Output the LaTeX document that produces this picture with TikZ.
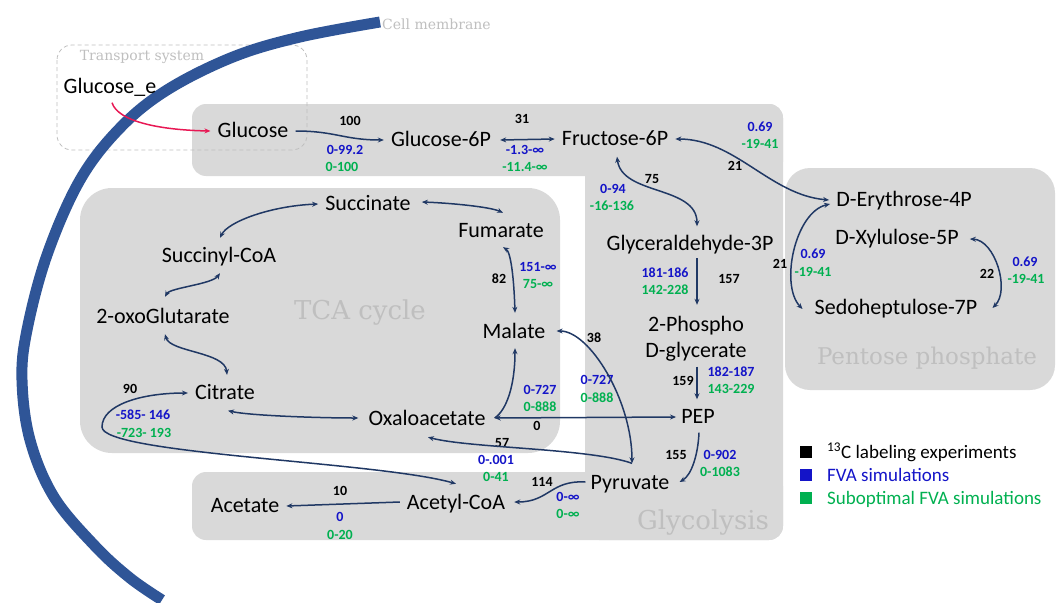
\documentclass[tikz,border=0pt]{standalone}
\usepackage{fontspec}
\setmainfont{Carlito}
\newfontfamily\slabfont{DejaVu Serif}
\usetikzlibrary{arrows.meta,calc}
\definecolor{arrowc}{RGB}{32,56,100}
\definecolor{membc}{RGB}{47,85,151}
\definecolor{boxc}{RGB}{217,217,217}
\definecolor{grouptxt}{RGB}{191,191,191}
\definecolor{fvab}{RGB}{20,20,200}
\definecolor{fvag}{RGB}{0,176,80}
\definecolor{redc}{RGB}{232,24,84}
\begin{document}
\begin{tikzpicture}[x=1pt,y=-1pt,
  met/.style={font=\fontsize{22}{26}\selectfont, text height=13pt, text depth=0pt, inner xsep=7pt, inner ysep=5pt},
  lab/.style={font=\fontsize{14}{16}\selectfont\bfseries, inner sep=0pt},
  expl/.style={lab, text=black},
  fval/.style={lab, text=fvab},
  subl/.style={lab, text=fvag},
  rxn/.style={draw=arrowc, line width=1.5pt, -{Stealth[length=6pt,width=5pt]}},
  rev/.style={draw=arrowc, line width=1.5pt, {Stealth[length=6pt,width=5pt]}-{Stealth[length=6pt,width=5pt]}},
  grp/.style={font=\slabfont\fontsize{26}{30}\selectfont, text=grouptxt, inner sep=0pt},
  legtxt/.style={anchor=west, font=\fontsize{19}{22}\selectfont, text height=12pt, text depth=0pt, inner sep=0pt},
  legsq/.style={minimum size=12pt, inner sep=0pt},
]
\useasboundingbox (0,0) rectangle (1056,602);
% compartments
\fill[boxc, rounded corners=14pt] (192,104) rectangle (783,176);
\fill[boxc, rounded corners=14pt] (585,104) rectangle (783,540);
\fill[boxc, rounded corners=14pt] (192,472) rectangle (783,540);
\fill[boxc, rounded corners=32pt] (80,188) rectangle (560,453);
\fill[boxc, rounded corners=25pt] (785,168) rectangle (1055,390);
\draw[grouptxt, line width=0.8pt, dash pattern=on 4pt off 3pt, rounded corners=15pt] (57,45) rectangle (307,150);
% membrane
\draw[membc, line width=11pt] plot[smooth, tension=0.6] coordinates {(380,22) (300,37) (233,57) (167,90) (120,128) (80,180) (47,255) (27,330) (22,380) (30,440) (54,497) (95,546) (130,578) (162,600)};
% group labels
\node[grp] (tcal) at (360,313) {TCA cycle};
\node[grp, font=\slabfont\fontsize{23}{28}\selectfont] (ppl) at (927,358) {Pentose phosphate};
\node[grp] (glyl) at (703,523) {Glycolysis};
\node[grp, font=\slabfont\fontsize{14}{16}\selectfont] (tsl) at (142,57) {Transport system};
\node[grp, font=\slabfont\fontsize{14}{16}\selectfont, anchor=west] (cml) at (382,24) {Cell membrane};
% metabolites
\node[met] (glce) at (110,87) {Glucose\_e};
\node[met] (glc) at (253,131) {Glucose};
\node[met] (g6p) at (441,140) {Glucose-6P};
\node[met] (f6p) at (615,139) {Fructose-6P};
\node[met] (gap) at (690,244) {Glyceraldehyde-3P};
\node[met, align=center, text height=39pt, text depth=1pt] (pg) at (696,338) {2-Phospho\\D-glycerate};
\node[met] (pep) at (698,417) {PEP};
\node[met] (pyr) at (630,483) {Pyruvate};
\node[met] (acoa) at (456,503) {Acetyl-CoA};
\node[met] (acet) at (245,506) {Acetate};
\node[met] (oaa) at (427,419) {Oxaloacetate};
\node[met] (cit) at (225,393) {Citrate};
\node[met] (mal) at (514,332) {Malate};
\node[met] (fum) at (501,231) {Fumarate};
\node[met] (suc) at (368,204) {Succinate};
\node[met] (sca) at (219,256) {Succinyl-CoA};
\node[met] (akg) at (163,317) {2-oxoGlutarate};
\node[met] (e4p) at (904,200) {D-Erythrose-4P};
\node[met] (xyl) at (897,238) {D-Xylulose-5P};
\node[met] (s7p) at (896,308) {Sedoheptulose-7P};
% flux labels
\node[expl] (a1) at (350,121) {100};
\node[fval] (b1) at (345,150) {0-99.2};
\node[subl] (c1) at (342,167) {0-100};
\node[expl] (a2) at (522,119) {31};
\node[fval] (b2) at (525,150) {-1.3-∞};
\node[subl] (c2) at (525,167) {-11.4-∞};
\node[fval] (b3) at (760,127) {0.69};
\node[subl] (c3) at (760,144) {-19-41};
\node[expl] (a3) at (735,166) {21};
\node[expl] (a4) at (652,179) {75};
\node[fval] (b4) at (613,189) {0-94};
\node[subl] (c4) at (612,206) {-16-136};
\node[fval] (b5) at (665,273) {181-186};
\node[subl] (c5) at (665,290) {142-228};
\node[expl] (a5) at (729,279) {157};
\node[expl] (a6) at (683,381) {159};
\node[fval] (b6) at (731,372) {182-187};
\node[subl] (c6) at (731,389) {143-229};
\node[expl] (a7) at (676,455) {155};
\node[fval] (b7) at (720,455) {0-902};
\node[subl] (c7) at (720,472) {0-1083};
\node[expl] (a8) at (542,482) {114};
\node[fval] (b8) at (568,497) {0-∞};
\node[subl] (c8) at (568,514) {0-∞};
\node[expl] (a9) at (340,491) {10};
\node[fval] (b9) at (340,517) {0};
\node[subl] (c9) at (340,535) {0-20};
\node[expl] (a10) at (502,443) {57};
\node[fval] (b10) at (496,460) {0-.001};
\node[subl] (c10) at (496,477) {0-41};
\node[fval] (b11) at (540,390) {0-727};
\node[subl] (c11) at (540,407) {0-888};
\node[expl] (a12) at (537,426) {0};
\node[expl] (a13) at (594,338) {38};
\node[fval] (b13) at (597,380) {0-727};
\node[subl] (c13) at (597,398) {0-888};
\node[expl] (a14) at (499,279) {82};
\node[fval] (b14) at (538,267) {151-∞};
\node[subl] (c14) at (538,284) {75-∞};
\node[expl] (a15) at (130,389) {90};
\node[fval] (b15) at (143,415) {-585- 146};
\node[subl] (c15) at (144,433) {-723- 193};
\node[expl] (a16) at (780,264) {21};
\node[fval] (b16) at (813,254) {0.69};
\node[subl] (c16) at (813,272) {-19-41};
\node[expl] (a17) at (987,274) {22};
\node[fval] (b17) at (1025,262) {0.69};
\node[subl] (c17) at (1026,279) {-19-41};
% legend
\node[legsq, fill=black] (sq1) at (806,452) {};
\node[legsq, fill=fvab] (sq2) at (806,475) {};
\node[legsq, fill=fvag] (sq3) at (806,498) {};
\node[legtxt] (lg1) at (827,452) {\textsuperscript{13}C labeling experiments};
\node[legtxt, text=fvab] (lg2) at (827,475) {FVA simulations};
\node[legtxt, text=fvag] (lg3) at (827,498) {Suboptimal FVA simulations};
% reactions
\draw[rxn] (glc.east) .. controls +(40,0) and +(-40,0) .. (g6p.west);
\draw[rev] ($(g6p.east)+(2,0)$) -- (f6p.west);
\draw[rev] (f6p.east) .. controls +(60,0) and +(-59,-5) .. (e4p.west);
\draw[rev] ($(f6p.south)+(2,6)$) .. controls +(5,39) and +(0,-41) .. ($(gap.north)+(7,-6)$);
\draw[rxn] ($(gap.south)+(7,2.5)$) -- ($(pg.north)+(1,-8)$);
\draw[rxn] ($(pg.south)+(1,3.5)$) -- ($(pep.north)+(-1,-6)$);
\draw[rxn] ($(pep.south)+(1,4)$) .. controls +(-1,22) and +(12,-7) .. ($(pyr.east)+(3,-1)$);
\draw[rxn] ($(pyr.west)+(2,-1)$) .. controls +(-35,-2) and +(35,0) .. ($(acoa.east)+(2,-1)$);
\draw[rxn] ($(acoa.west)+(0,-1)$) -- (acet.east);
\draw[rxn] ($(pyr.north)+(2,-8)$) .. controls +(-42,-15) and +(42,11) .. ($(oaa.south)+(1,6.5)$);
\draw[rev] ($(mal.east)+(4,-1)$) .. controls +(33,0) and +(0,-63) .. ($(pyr.north)+(2,-8)$);
\draw[rev] ($(oaa.east)+(2,-1)$) -- ($(pep.west)+(2,0)$);
\draw[rxn] ($(oaa.east)+(2,-1)$) .. controls +(12,-8) and +(0,37) .. ($(mal.south)+(1,4.5)$);
\draw[rev] ($(fum.south)+(2,4.5)$) .. controls +(8,5) and +(-1,-33) .. ($(mal.north)+(1,-7.5)$);
\draw[rev] ($(suc.east)+(4,-2)$) .. controls +(28,1) and +(-13,-6) .. ($(fum.north)+(2,-6.5)$);
\draw[rev] ($(sca.north)+(1,-6.5)$) .. controls +(8,-16) and +(-48,2) .. (suc.west);
\draw[rev] ($(akg.north)+(2,-8.5)$) .. controls +(5,-9) and +(-8,11) .. ($(sca.south)+(1,5.5)$);
\draw[rev] ($(akg.south)+(2,5.5)$) .. controls +(5,18) and +(-2,-23) .. ($(cit.north)+(2,-6.5)$);
\draw[rev] ($(cit.south)+(3,6)$) .. controls +(22,5) and +(-38,0) .. ($(oaa.west)+(-3,-1)$);
\draw[rev] (cit.west) .. controls +(-47,0) and +(0,-22) .. (102,427) .. controls +(0,27) and +(-76,-22) .. ($(acoa.north)+(0,-7.5)$);
\draw[rev] ($(e4p.west)+(1,4)$) .. controls +(-35,8) and +(-23,-24) .. ($(s7p.west)+(-5,1)$);
\draw[rev] ($(xyl.east)+(4,1)$) .. controls +(25,1) and +(18,-18) .. ($(s7p.east)+(8,0)$);
% transport
\draw[rxn, draw=redc] ($(glce.south)+(2,4)$) .. controls +(6,19) and +(-50,-1) .. (glc.west);
\end{tikzpicture}
\end{document}
